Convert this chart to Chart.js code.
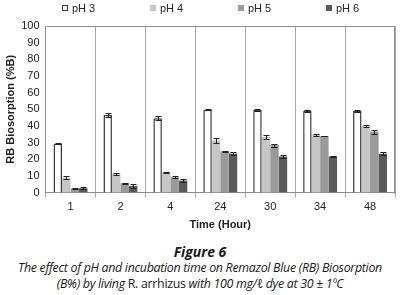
<!DOCTYPE html>
<html>
<head>
<meta charset="utf-8">
<script src="https://cdn.jsdelivr.net/npm/chart.js@4/dist/chart.umd.min.js"></script>
<style>
    html, body { margin: 0; padding: 0; background: #fff; }
    #wrap { width: 400px; height: 295px; position: relative; overflow: hidden; }
    #chartBox { width: 400px; height: 232px; position: absolute; left: 0; top: 0; }
    #legend { position: absolute; left: 62px; top: 1px; height: 14px; display: flex;
              font-family: "Liberation Sans", Arial, sans-serif; font-size: 11px; color: #222; }
    .lgItem { width: 88px; display: flex; align-items: center; white-space: nowrap; }
    .lgBox { width: 6px; height: 6px; margin-right: 4px; box-sizing: border-box; }
    .cap { position: absolute; left: 0; width: 400px; text-align: center; color: #1a1a1a;
           font-family: "Open Sans", "Noto Sans", sans-serif; font-style: italic; white-space: nowrap; }
    #figTitle { top: 242px; font-size: 14px; font-weight: bold; }
    .capLine { font-size: 12.4px; letter-spacing: -0.3px; }
    #capLine1 { top: 259px; }
    #capLine2 { top: 275px; }
    .up { font-style: normal; }
</style>
</head>
<body>
<div id="wrap">
    <div id="chartBox"><canvas id="bioChart" width="400" height="232"></canvas></div>
    <div id="legend"></div>
    <div id="figTitle" class="cap">Figure 6</div>
    <div id="capLine1" class="cap capLine">The effect of pH and incubation time on Remazol Blue (RB) Biosorption</div>
    <div id="capLine2" class="cap capLine">(B%) by living <span class="up">R. arrhizus</span> with 100 mg/ℓ dye at 30 ± 1ºC</div>
</div>
<script>
    const timeLabels = ["1", "2", "4", "24", "30", "34", "48"];
    const seriesNames = ["pH 3", "pH 4", "pH 5", "pH 6"];

    const ph3 = [29.3, 46.6, 44.6, 49.7, 49.6, 49.0, 49.0];
    const ph4 = [8.8, 11.3, 12.2, 31.3, 33.3, 34.8, 40.0];
    const ph5 = [2.5, 5.6, 9.2, 24.8, 28.5, 33.9, 36.6];
    const ph6 = [2.6, 3.9, 7.2, 23.4, 21.7, 21.7, 23.3];

    const ph3Err = [0.3, 1.3, 1.1, 0.4, 0.4, 0.6, 0.8];
    const ph4Err = [0.9, 0.7, 0.3, 1.3, 1.0, 0.6, 0.4];
    const ph5Err = [0.3, 0.4, 0.7, 0.3, 0.9, 0.2, 1.2];
    const ph6Err = [0.5, 1.1, 0.7, 0.8, 1.1, 0.2, 0.9];

    const yTicks = [0, 10, 20, 30, 40, 50, 60, 70, 80, 90, 100];

    const fillColors = ["#ffffff", "#c6c6c6", "#9a9a9a", "#5a5a5a"];
    const edgeColors = ["#3a3a3a", "#c6c6c6", "#9a9a9a", "#5a5a5a"];
    const allValues = [ph3, ph4, ph5, ph6];
    const allErrors = [ph3Err, ph4Err, ph5Err, ph6Err];

    const FONT = "'Liberation Sans', Arial, sans-serif";

    // legend in html: Chart.js legend padding is shared by width and height,
    // the original has wide gaps but a short legend row
    const legendEl = document.getElementById("legend");
    seriesNames.forEach((name, i) => {
        legendEl.insertAdjacentHTML("beforeend", `
          <div class="lgItem">
            <span class="lgBox" style="background:${fillColors[i]};border:1px solid ${edgeColors[i]}"></span>${name}
          </div>`);
    });

    // error bars with caps, drawn from the bar elements and the y scale
    const errorBars = {
        id: "errorBars",
        afterDatasetsDraw(chart) {
            const ctx = chart.ctx;
            const y = chart.scales.y;
            ctx.save();
            ctx.strokeStyle = "#222";
            ctx.lineWidth = 1;
            chart.data.datasets.forEach((ds, i) => {
                const meta = chart.getDatasetMeta(i);
                meta.data.forEach((bar, j) => {
                    const v = ds.data[j];
                    const e = allErrors[i][j];
                    const top = Math.round(y.getPixelForValue(v + e)) + 0.5;
                    const bot = Math.round(y.getPixelForValue(v - e)) + 0.5;
                    const x = Math.round(bar.x) + 0.5;
                    ctx.beginPath();
                    ctx.moveTo(x, top); ctx.lineTo(x, bot);
                    ctx.moveTo(x - 3, top); ctx.lineTo(x + 3, top);
                    ctx.moveTo(x - 3, bot); ctx.lineTo(x + 3, bot);
                    ctx.stroke();
                });
            });
            ctx.restore();
        }
    };

    // top and right border of the plot box
    const plotFrame = {
        id: "plotFrame",
        afterDraw(chart) {
            const a = chart.chartArea;
            const ctx = chart.ctx;
            ctx.save();
            ctx.strokeStyle = "#8c8c8c";
            ctx.lineWidth = 1;
            ctx.beginPath();
            ctx.moveTo(Math.round(a.left) + 0.5, Math.round(a.top) + 0.5);
            ctx.lineTo(Math.round(a.right) - 0.5, Math.round(a.top) + 0.5);
            ctx.lineTo(Math.round(a.right) - 0.5, Math.round(a.bottom) + 0.5);
            ctx.stroke();
            ctx.restore();
        }
    };

    const ctx = document.getElementById("bioChart");
    new Chart(ctx, {
        type: "bar",
        data: {
            labels: timeLabels,
            datasets: seriesNames.map((name, i) => ({
                label: name,
                data: allValues[i],
                backgroundColor: fillColors[i],
                borderColor: edgeColors[i],
                borderWidth: i === 0 ? 1.5 : 0,
                categoryPercentage: 0.68,
                barPercentage: 1.0
            }))
        },
        options: {
            responsive: false,
            animation: false,
            layout: { padding: { left: 4, right: 5, top: 26, bottom: 0 } },
            plugins: {
                legend: { display: false },
                tooltip: { enabled: false }
            },
            scales: {
                x: {
                    grid: { display: true, offset: true, color: "#a8a8a8", drawTicks: true, tickLength: 5 },
                    border: { color: "#8c8c8c" },
                    ticks: { color: "#222", font: { family: FONT, size: 11 }, padding: 3 },
                    title: {
                        display: true, text: "Time (Hour)", color: "#222",
                        font: { family: FONT, size: 11, weight: "bold" }, padding: { top: 2, bottom: 0 }
                    }
                },
                y: {
                    min: 0, max: 100,
                    afterBuildTicks: axis => { axis.ticks = yTicks.map(v => ({ value: v })); },
                    grid: { display: false, drawTicks: true, tickLength: 4 },
                    border: { color: "#8c8c8c" },
                    ticks: { color: "#222", font: { family: FONT, size: 11 }, padding: 2 },
                    title: {
                        display: true, text: "RB Biosorption (%B)", color: "#222",
                        font: { family: FONT, size: 11, weight: "bold" }, padding: { top: 0, bottom: 2 }
                    }
                }
            }
        },
        plugins: [errorBars, plotFrame]
    });
</script>
</body>
</html>
